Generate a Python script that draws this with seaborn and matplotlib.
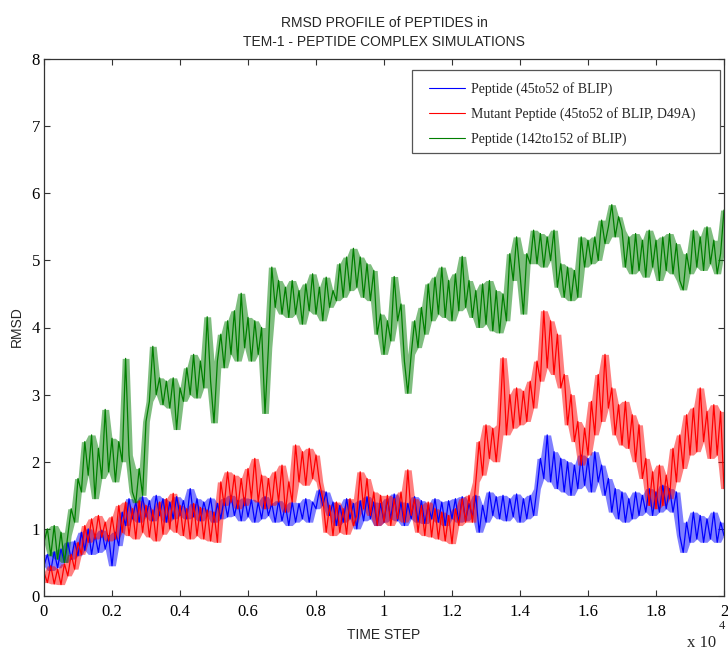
import numpy as np
import pandas as pd
import matplotlib
matplotlib.use("Agg")
import matplotlib.pyplot as plt
import seaborn as sns
from matplotlib.lines import Line2D
from matplotlib.patches import Rectangle

# ---- data: RMSD traces sampled every 100 time steps ----
series_names = [
    "Peptide (45to52 of BLIP)",
    "Mutant Peptide (45to52 of BLIP, D49A)",
    "Peptide (142to152 of BLIP)",
]

rmsd_wild_45_52 = [
    0.45, 0.62, 0.38, 0.66, 0.42, 0.70, 0.50, 0.80, 0.55, 0.82,
    0.60, 0.95, 0.68, 1.00, 0.62, 0.92, 0.65, 0.98, 0.70, 0.90,
    0.45, 0.95, 0.75, 1.25, 1.05, 1.45, 1.15, 1.40, 1.10, 1.48,
    1.18, 1.42, 1.12, 1.50, 1.20, 1.45, 1.10, 1.40, 1.15, 1.48,
    1.20, 1.42, 1.15, 1.60, 1.18, 1.45, 1.12, 1.40, 1.20, 1.46,
    1.10, 1.38, 1.15, 1.45, 1.18, 1.50, 1.20, 1.42, 1.12, 1.46,
    1.18, 1.44, 1.10, 1.40, 1.15, 1.48, 1.20, 1.38, 1.10, 1.42,
    1.12, 1.35, 1.05, 1.40, 1.10, 1.38, 1.15, 1.45, 1.10, 1.40,
    1.30, 1.58, 1.35, 1.55, 1.20, 1.40, 1.05, 1.35, 1.10, 1.45,
    1.15, 1.38, 1.00, 1.42, 1.12, 1.48, 1.15, 1.40, 1.05, 1.38,
    1.10, 1.45, 1.15, 1.52, 1.12, 1.40, 1.05, 1.38, 1.15, 1.48,
    1.10, 1.42, 1.08, 1.35, 1.15, 1.45, 1.10, 1.40, 1.05, 1.42,
    1.15, 1.45, 1.10, 1.48, 1.12, 1.38, 1.18, 1.50, 0.95, 1.35,
    1.10, 1.55, 1.20, 1.48, 1.15, 1.50, 1.12, 1.45, 1.18, 1.52,
    1.10, 1.45, 1.15, 1.50, 1.20, 1.60, 2.05, 1.75, 2.40, 1.70,
    2.15, 1.60, 2.05, 1.55, 2.00, 1.50, 1.95, 1.60, 2.10, 1.65,
    2.05, 1.55, 2.15, 1.70, 1.95, 1.50, 1.75, 1.25, 1.60, 1.15,
    1.55, 1.10, 1.45, 1.15, 1.55, 1.20, 1.50, 1.25, 1.60, 1.20,
    1.55, 1.25, 1.65, 1.30, 1.60, 1.25, 1.55, 0.90, 0.65, 1.10,
    0.80, 1.25, 0.85, 1.20, 0.80, 1.15, 0.85, 1.25, 0.80, 1.10,
    0.90,
]

rmsd_mutant_45_52 = [
    0.35, 0.20, 0.45, 0.18, 0.40, 0.17, 0.48, 0.30, 0.62, 0.40,
    0.80, 0.62, 1.05, 0.80, 1.15, 0.85, 1.20, 0.88, 1.10, 0.82,
    1.18, 0.85, 1.35, 0.95, 1.40, 0.90, 1.30, 0.85, 1.42, 0.95,
    1.35, 0.88, 1.28, 0.82, 1.40, 0.92, 1.45, 1.00, 1.53, 0.95,
    1.35, 0.90, 1.30, 0.85, 1.38, 0.90, 1.32, 0.85, 1.28, 0.82,
    1.25, 0.80, 1.70, 1.35, 1.85, 1.40, 1.80, 1.30, 1.75, 1.35,
    1.90, 1.45, 2.05, 1.40, 1.80, 1.30, 1.75, 1.35, 1.85, 1.40,
    1.95, 1.25, 1.70, 1.40, 2.25, 1.70, 2.15, 1.65, 2.20, 1.75,
    2.10, 1.70, 1.45, 0.95, 1.35, 0.90, 1.40, 0.95, 1.30, 0.92,
    1.45, 1.05, 1.20, 1.85, 1.30, 1.75, 1.20, 1.55, 1.05, 1.50,
    1.10, 1.50, 1.05, 1.45, 1.15, 1.55, 1.10, 1.88, 1.20, 1.45,
    0.95, 1.35, 0.90, 1.40, 0.88, 1.30, 0.85, 1.25, 0.82, 1.20,
    0.78, 1.30, 1.05, 1.45, 1.10, 1.50, 1.10, 1.70, 2.30, 1.80,
    2.55, 2.05, 2.50, 2.00, 2.55, 3.55, 2.40, 3.00, 2.50, 3.10,
    2.55, 3.05, 2.60, 3.20, 2.80, 3.50, 3.20, 4.25, 3.40, 4.10,
    3.30, 3.90, 3.10, 3.30, 2.55, 3.00, 2.30, 2.60, 1.95, 2.50,
    2.10, 2.90, 2.40, 3.30, 2.60, 3.60, 2.80, 3.10, 2.40, 2.85,
    2.25, 2.90, 2.20, 2.70, 2.00, 2.55, 1.75, 2.05, 1.35, 1.85,
    1.30, 1.95, 1.35, 1.80, 1.45, 2.20, 1.70, 2.40, 1.90, 2.70,
    2.10, 2.80, 2.15, 3.10, 2.30, 2.75, 2.05, 2.85, 2.10, 2.75,
    1.60,
]

rmsd_wild_142_152 = [
    0.80, 1.00, 0.60, 1.05, 0.55, 0.95, 0.50, 0.90, 1.30, 1.10,
    1.75, 1.55, 2.30, 1.80, 2.40, 1.45, 2.20, 1.75, 2.78, 1.85,
    2.35, 1.70, 2.30, 2.00, 3.54, 2.10, 1.55, 1.39, 1.90, 1.50,
    2.60, 2.90, 3.72, 3.00, 3.25, 2.85, 3.20, 2.80, 3.25, 2.48,
    3.10, 2.90, 3.40, 3.00, 3.60, 2.95, 3.50, 3.10, 4.16, 3.20,
    2.58, 3.50, 3.90, 3.40, 4.10, 3.60, 4.25, 3.50, 4.51, 3.70,
    4.15, 3.50, 4.10, 3.60, 4.00, 2.72, 3.70, 4.90, 4.30, 4.70,
    4.20, 4.60, 4.15, 4.70, 4.20, 4.55, 4.05, 4.65, 4.25, 4.80,
    4.20, 4.60, 4.10, 4.75, 4.30, 4.55, 4.40, 4.95, 4.45, 5.05,
    4.55, 5.18, 4.60, 5.05, 4.45, 4.95, 4.40, 4.85, 3.90, 4.20,
    3.60, 4.10, 3.80, 4.76, 4.10, 4.35, 3.50, 3.02, 3.60, 4.10,
    3.70, 4.30, 3.90, 4.65, 4.10, 4.75, 4.20, 4.90, 4.15, 4.70,
    4.10, 4.80, 4.25, 5.06, 4.30, 4.70, 4.15, 4.55, 4.00, 4.65,
    4.05, 4.70, 3.95, 4.55, 3.92, 4.50, 4.10, 5.10, 4.70, 5.35,
    4.80, 4.20, 5.10, 4.95, 5.45, 4.95, 5.40, 4.90, 5.35, 5.00,
    5.45, 4.60, 4.95, 4.45, 4.90, 4.40, 4.85, 4.45, 5.35, 4.90,
    5.30, 4.95, 5.35, 5.00, 5.60, 5.25, 5.50, 5.83, 5.35, 5.65,
    5.45, 4.90, 5.35, 4.80, 5.40, 4.85, 5.30, 4.75, 5.45, 4.90,
    5.30, 4.70, 5.35, 4.85, 5.40, 4.80, 5.25, 4.70, 4.56, 5.10,
    4.80, 5.45, 4.90, 5.35, 4.85, 5.50, 4.95, 5.30, 4.80, 5.10,
    5.75,
]

line_colors = ["#0000ff", "#ff0000", "#007f00"]

x_ticks = [0, 2000, 4000, 6000, 8000, 10000, 12000, 14000, 16000, 18000, 20000]
x_tick_labels = ["0", "0.2", "0.4", "0.6", "0.8", "1", "1.2", "1.4", "1.6", "1.8", "2"]
y_ticks = [0, 1, 2, 3, 4, 5, 6, 7, 8]

# ---- long-form table for seaborn ----
frames = []
for name, vals in zip(series_names,
                      [rmsd_wild_45_52, rmsd_mutant_45_52, rmsd_wild_142_152]):
    steps = np.linspace(0, 20000, len(vals))
    frames.append(pd.DataFrame({"time": steps, "rmsd": vals, "series": name}))
df = pd.concat(frames, ignore_index=True)

sns.set_style("ticks")
plt.rcParams["font.family"] = ["Liberation Serif", "DejaVu Serif"]

fig = plt.figure(figsize=(7.28, 6.57), dpi=100)
ax = fig.add_axes([44 / 728, 1 - 596 / 657, 680 / 728, 537 / 657])

# fluctuation band of each trace: local min/max of neighbouring samples
for name, color in zip(series_names, line_colors):
    sub = df[df["series"] == name]
    hi = sub["rmsd"].rolling(3, center=True, min_periods=1).max()
    lo = sub["rmsd"].rolling(3, center=True, min_periods=1).min()
    ax.fill_between(sub["time"], lo, hi, color=color, alpha=0.5,
                    linewidth=0, zorder=1)

sns.lineplot(data=df, x="time", y="rmsd", hue="series", hue_order=series_names,
             palette=line_colors, estimator=None, sort=False, linewidth=0.9,
             ax=ax, legend=False, zorder=2)

ax.set_xlim(0, 20000)
ax.set_ylim(0, 8)
ax.set_xticks(x_ticks)
ax.set_xticklabels(x_tick_labels)
ax.set_yticks(y_ticks)
ax.set_yticklabels([str(v) for v in y_ticks])
ax.tick_params(direction="in", length=4, width=0.8, colors="#333333",
               labelcolor="black", labelsize=12, top=True, right=True)
ax.tick_params(axis="x", pad=6)
ax.tick_params(axis="y", pad=3)
for sp in ax.spines.values():
    sp.set_color("#333333")
    sp.set_linewidth(0.9)
ax.set_xlabel("")
ax.set_ylabel("")

sans = ["Liberation Sans", "DejaVu Sans"]
fig.text(384 / 728, 1 - 23 / 657, "RMSD PROFILE of PEPTIDES in",
         ha="center", va="center", fontsize=10, family=sans)
fig.text(384 / 728, 1 - 42 / 657, "TEM-1 - PEPTIDE COMPLEX SIMULATIONS",
         ha="center", va="center", fontsize=10, family=sans)
fig.text(384 / 728, 1 - 635 / 657, "TIME STEP",
         ha="center", va="center", fontsize=10, family=sans)
fig.text(17 / 728, 1 - 327 / 657, "RMSD", rotation=90,
         ha="center", va="center", fontsize=10, family=sans)
fig.text(702 / 728, 1 - 643 / 657, "x 10", ha="center", va="center", fontsize=12)
fig.text(722 / 728, 1 - 626 / 657, "4", ha="center", va="center", fontsize=9)

# legend box drawn separately for MATLAB-like padding
ax.add_patch(Rectangle((0.541, 0.825), 0.453, 0.1546, transform=ax.transAxes,
                       facecolor="white", edgecolor="#555555", linewidth=0.9,
                       zorder=4))
handles = [Line2D([0], [0], color=c, lw=0.8) for c in line_colors]
leg = ax.legend(handles, series_names, loc="upper left",
                bbox_to_anchor=(0.566, 0.957), fontsize=10, frameon=False,
                handlelength=2.6, handletextpad=0.4, labelspacing=0.78,
                borderpad=0.0, borderaxespad=0.0)
leg.set_zorder(5)

fig.savefig("out.png", dpi=100)
